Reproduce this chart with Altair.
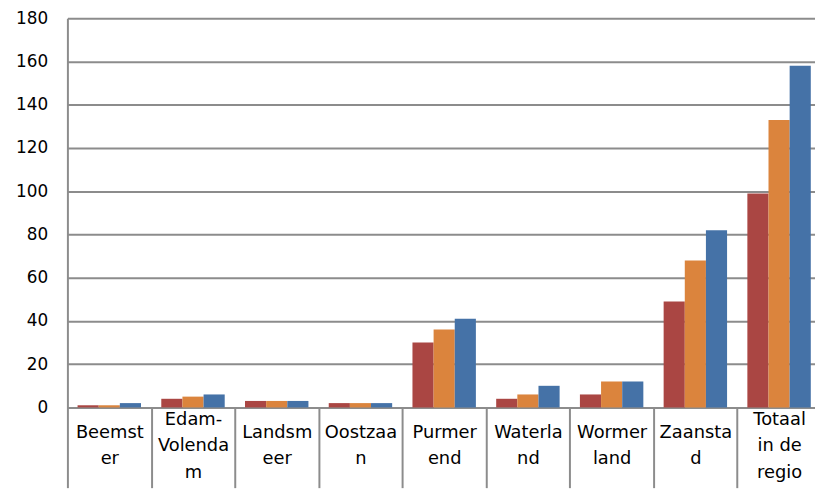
import altair as alt
import pandas as pd

categories = ["Beemster", "Edam-Volendam", "Landsmeer", "Oostzaan", "Purmerend",
              "Waterland", "Wormerland", "Zaanstad", "Totaal in de regio"]
label_lines = [["Beemst", "er"], ["Edam-", "Volenda", "m"], ["Landsm", "eer"],
               ["Oostzaa", "n"], ["Purmer", "end"], ["Waterla", "nd"],
               ["Wormer", "land"], ["Zaansta", "d"], ["Totaal", "in de", "regio"]]
series = ["Reeks 1", "Reeks 2", "Reeks 3"]
values_1 = [1, 4, 3, 2, 30, 4, 6, 49, 99]
values_2 = [1, 5, 3, 2, 36, 6, 12, 68, 133]
values_3 = [2, 6, 3, 2, 41, 10, 12, 82, 158]
colors = ["#AA4643", "#DB843D", "#4572A7"]
y_ticks = [0, 20, 40, 60, 80, 100, 120, 140, 160, 180]

rows = []
for i, cat in enumerate(categories):
    for s, vals in zip(series, [values_1, values_2, values_3]):
        rows.append({"gemeente": cat, "reeks": s, "waarde": vals[i]})
df = pd.DataFrame(rows)

label_expr = " : ".join(
    f"datum.label === {c!r} ? {lines!r}" for c, lines in zip(categories, label_lines)
) + " : datum.label"
three_line = [c for c, lines in zip(categories, label_lines) if len(lines) == 3]
three_test = " || ".join(f"datum.value === {c!r}" for c in three_line)

GRAY = "#8c8c8c"
FONT = "DejaVu Sans"

chart = alt.Chart(df).mark_bar().encode(
    x=alt.X("gemeente:N", sort=categories,
            scale=alt.Scale(range=[0, 761], paddingInner=0, paddingOuter=0),
            axis=alt.Axis(title=None, labelAngle=0, labelExpr=label_expr,
                          tickBand="extent", tickSize=81, tickWidth=2, tickColor=GRAY,
                          domainColor=GRAY, domainWidth=2,
                          labelPadding={"condition": {"test": three_test, "value": -69},
                                        "value": -56},
                          labelBaseline="middle", labelFont=FONT, labelFontSize=18,
                          labelLineHeight=27, labelColor="black", labelOverlap=False,
                          labelBound=False, labelLimit=0)),
    xOffset=alt.XOffset("reeks:N", sort=series,
                        scale=alt.Scale(paddingInner=0, paddingOuter=0.48)),
    y=alt.Y("waarde:Q", scale=alt.Scale(domain=[0, 180], nice=False),
            axis=alt.Axis(title=None, values=y_ticks, grid=True, gridColor=GRAY,
                          gridWidth=2, domainColor=GRAY, domainWidth=2, ticks=False,
                          labelPadding=20, labelFont=FONT, labelFontSize=17,
                          labelColor="black")),
    color=alt.Color("reeks:N", scale=alt.Scale(domain=series, range=colors), legend=None),
).properties(
    width=755, height=393, autosize="none",
    padding={"left": 60, "top": 8, "right": 0, "bottom": 81},
).configure_view(stroke=None)

chart.save("out.html", embed_options={"renderer": "svg", "actions": False})
